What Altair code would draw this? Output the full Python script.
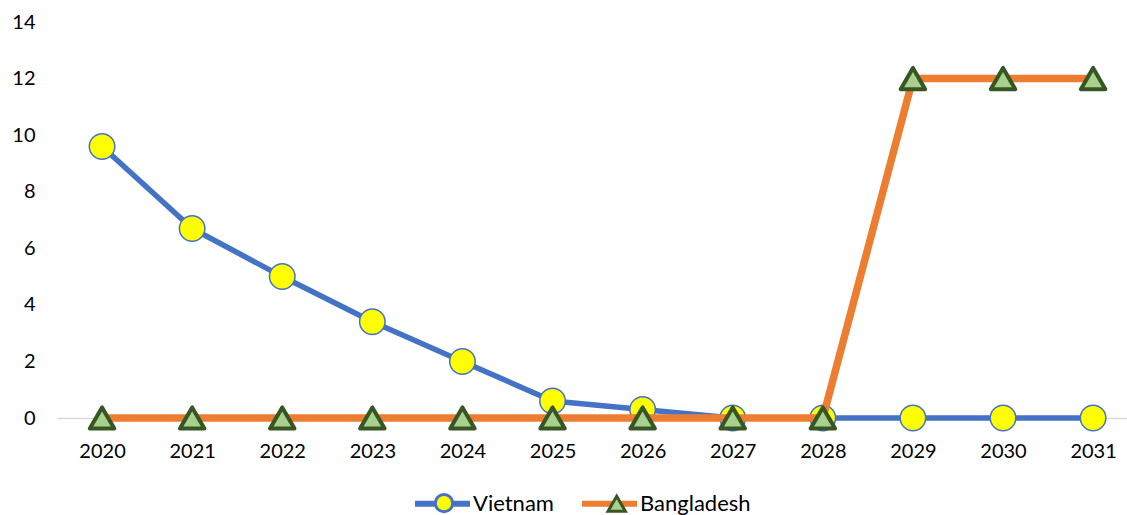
import altair as alt
import pandas as pd

years = list(range(2020, 2032))
vietnam = [9.6, 6.7, 5.0, 3.4, 2.0, 0.6, 0.3, 0, 0, 0, 0, 0]
bangladesh = [0, 0, 0, 0, 0, 0, 0, 0, 0, 12, 12, 12]
series_names = ["Vietnam", "Bangladesh"]
line_colors = ["#4472C4", "#ED7D31"]
marker_fill = ["#FFFF00", "#A9D18E"]
marker_stroke = ["#4472C4", "#375623"]
marker_shape = ["circle", "triangle-up"]
y_ticks = [0, 2, 4, 6, 8, 10, 12, 14]

rows = []
for y, v in zip(years, vietnam):
    rows.append({"year": y, "value": v, "series": "Vietnam"})
for y, v in zip(years, bangladesh):
    rows.append({"year": y, "value": v, "series": "Bangladesh"})
df = pd.DataFrame(rows)

FONT = "Lato"

x_enc = alt.X("year:Q", scale=alt.Scale(domain=[2019.5, 2031.376], nice=False, zero=False),
              axis=alt.Axis(values=years, format="d", title=None, grid=False, ticks=False,
                            domainColor="#D9D9D9", domainWidth=1.3, labelPadding=23,
                            labelFont=FONT, labelFontSize=20, labelColor="#000000"))
y_enc = alt.Y("value:Q", scale=alt.Scale(domain=[0, 14], nice=False),
              axis=alt.Axis(values=y_ticks, title=None, grid=False, ticks=False, domain=False,
                            labelPadding=22, labelFont=FONT, labelFontSize=20, labelColor="#000000"))

leg_common = dict(orient="none", direction="horizontal", columns=2, title=None,
                  labelFont=FONT, labelFontSize=22, labelColor="#000000")

line_legend = alt.Legend(symbolType="stroke", symbolSize=3025, symbolStrokeWidth=6,
                         labelOffset=0, columnPadding=16, legendX=355, legendY=451, **leg_common)
pt_legend = alt.Legend(symbolSize=300, symbolStrokeWidth=3, labelOffset=0, labelExpr="''",
                       columnPadding=142.7, legendX=376, legendY=470, **leg_common)

color_enc = alt.Color("series:N", scale=alt.Scale(domain=series_names, range=line_colors),
                      legend=line_legend)
fill_enc = alt.Fill("series:N", sort="descending", scale=alt.Scale(range=marker_fill), legend=pt_legend)
stroke_enc = alt.Stroke("series:N", sort="descending", scale=alt.Scale(range=marker_stroke), legend=pt_legend)
shape_enc = alt.Shape("series:N", sort="descending", scale=alt.Scale(range=marker_shape), legend=pt_legend)

base = alt.Chart(df)

def line_layer(name, sw):
    return base.transform_filter(alt.datum.series == name).mark_line(
        strokeJoin="round", strokeWidth=sw).encode(x=x_enc, y=y_enc, color=color_enc)

def point_layer(name, size, sw):
    return base.transform_filter(alt.datum.series == name).mark_point(
        size=size, strokeWidth=sw, opacity=1, fillOpacity=1, strokeJoin="round").encode(
        x=x_enc, y=y_enc, fill=fill_enc, stroke=stroke_enc, shape=shape_enc)

chart = alt.layer(
    line_layer("Vietnam", 5.5),
    point_layer("Vietnam", 650, 1.5),
    line_layer("Bangladesh", 7.5),
    point_layer("Bangladesh", 600, 4),
).properties(
    width=1070, height=396,
    background="white",
    autosize=alt.AutoSizeParams(type="none"),
    padding={"left": 57, "top": 22, "right": 0, "bottom": 97},
).configure_view(strokeWidth=0, stroke="transparent")

chart.save("out.html", embed_options={"renderer": "svg", "actions": False})
